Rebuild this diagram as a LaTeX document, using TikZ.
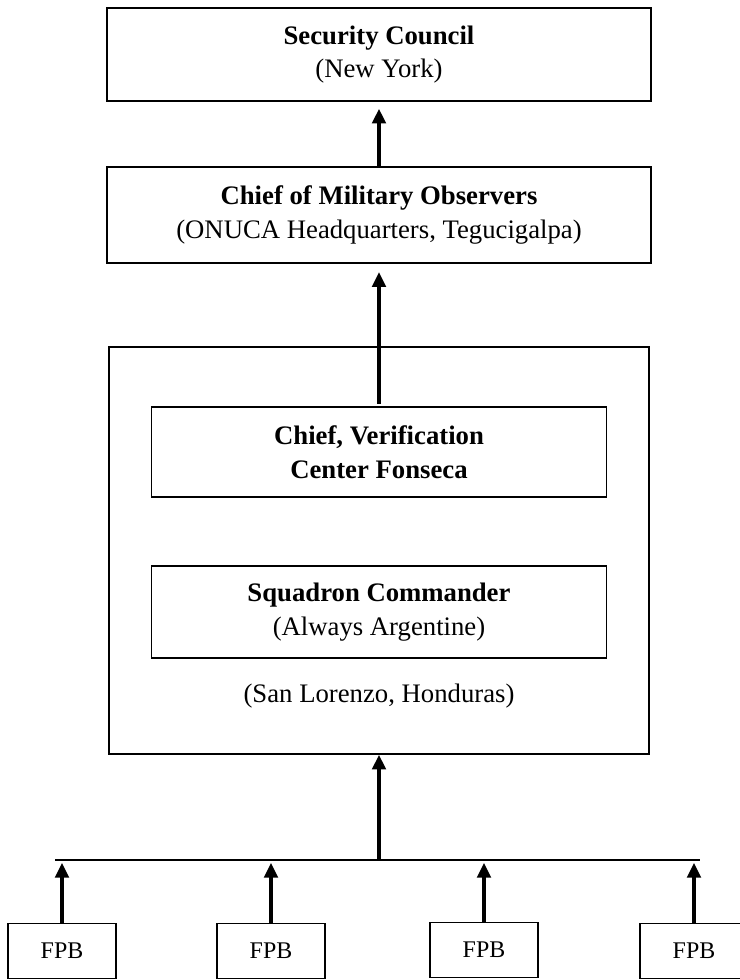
\documentclass[tikz,border=0pt]{standalone}
\usepackage{fontspec}
\setmainfont{Liberation Serif}
\usetikzlibrary{arrows.meta}

\begin{document}
\begin{tikzpicture}[x=0.025cm, y=-0.025cm]

    \tikzset{%
        unitbox/.style={draw, line width=0.9pt, align=center, inner sep=0pt,
                font=\fontsize{19}{24}\selectfont},
        upArrow/.style={line width=3.5pt, -{Triangle[length=10.5pt, width=9.5pt]}},
        fpbbox/.style={draw, line width=0.9pt, minimum width=2.7cm,
                minimum height=1.375cm, font=\fontsize{17}{20}\selectfont},
    }

    \useasboundingbox (0,0) rectangle (740,980);

    \node [unitbox, minimum width=13.6cm, minimum height=2.325cm] (council) at (379,54.5)
        {\textbf{Security Council}\\(New York)};
    \node [unitbox, minimum width=13.6cm, minimum height=2.4cm] (observers) at (379,215)
        {\textbf{Chief of Military Observers}\\(ONUCA Headquarters, Tegucigalpa)};

    \node [unitbox, minimum width=13.5cm, minimum height=10.175cm] (fonseca) at (379,550.5) {};
    \node [unitbox, minimum width=11.375cm, minimum height=2.25cm] (chief) at (379,452)
        {\textbf{Chief, Verification}\\\textbf{Center Fonseca}};
    \node [unitbox, minimum width=11.375cm, minimum height=2.3cm] (squadron) at (379,612)
        {\textbf{Squadron Commander}\\(Always Argentine)};
    \node [font=\fontsize{19}{24}\selectfont, anchor=base] (base) at (379,702)
        {(San Lorenzo, Honduras)};

    \draw [upArrow, shorten >=5pt] (observers) -- (council);
    \draw [upArrow, shorten >=6pt, shorten <=2pt] (chief) -- (observers);

    % boats
    \coordinate (busL) at (55,860);
    \coordinate (busR) at (700,860);
    \coordinate (busM) at (fonseca.south |- busL);
    \draw [line width=0.9pt] (busL) -- (busR);
    \draw [upArrow] (busM) -- (fonseca.south);

    \foreach \i/\x/\y in {1/62/951, 2/271/951, 3/484/950, 4/694/951} {%
            \node [fpbbox] (fpb\i) at (\x,\y) {FPB};
            \draw [upArrow, shorten >=2pt] (fpb\i.north) -- (fpb\i.north |- busL);
        }

\end{tikzpicture}
\end{document}
